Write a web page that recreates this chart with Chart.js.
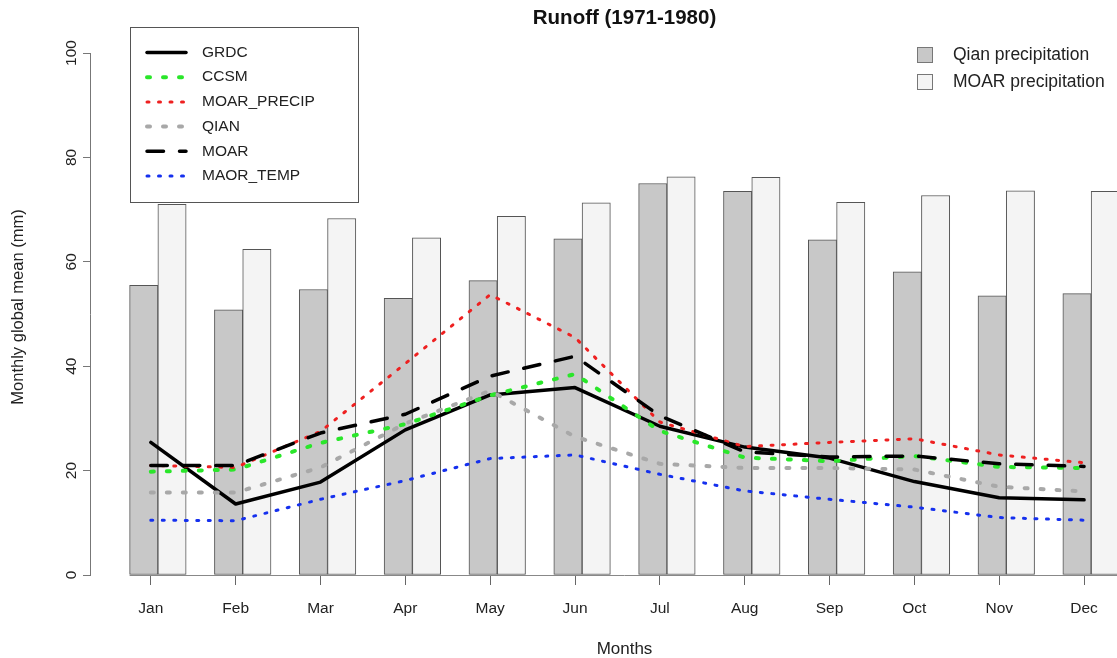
<!DOCTYPE html>
<html>
<head>
<meta charset="utf-8">
<title>Runoff (1971-1980)</title>
<script src="https://cdn.jsdelivr.net/npm/chart.js@4.4.0/dist/chart.umd.min.js"></script>
<style>
  html, body { margin: 0; padding: 0; background: #fff; overflow: hidden; }
  #wrap { width: 1117px; height: 658px; overflow: hidden; }
</style>
</head>
<body>
<div id="wrap"><canvas id="runoffChart" width="1248" height="658"></canvas></div>
<script>
// data
const months = ['Jan', 'Feb', 'Mar', 'Apr', 'May', 'Jun', 'Jul', 'Aug', 'Sep', 'Oct', 'Nov', 'Dec'];
const yTicks = [0, 20, 40, 60, 80, 100];

const qianPrecip = [55.5, 50.8, 54.7, 53.0, 56.4, 64.4, 75.0, 73.5, 64.2, 58.1, 53.5, 53.9];
const moarPrecip = [71.0, 62.4, 68.3, 64.6, 68.7, 71.3, 76.3, 76.2, 71.4, 72.7, 73.6, 73.5];

const grdc       = [25.4, 13.6, 17.8, 27.8, 34.5, 35.9, 28.5, 24.5, 22.4, 17.9, 14.8, 14.4];
const ccsm       = [19.8, 20.2, 25.3, 28.9, 34.4, 38.5, 27.6, 22.5, 21.8, 22.8, 20.7, 20.5];
const moarPrecipRunoff = [21.0, 20.6, 27.5, 40.5, 53.7, 45.5, 29.3, 24.6, 25.4, 26.1, 23.0, 21.5];
const qian       = [15.8, 15.8, 20.6, 29.0, 35.3, 26.5, 21.3, 20.5, 20.5, 20.2, 16.9, 16.0];
const moar       = [21.0, 21.0, 27.2, 30.8, 38.1, 41.9, 30.5, 23.6, 22.6, 22.8, 21.3, 20.8];
const maorTemp   = [10.5, 10.4, 14.5, 18.1, 22.3, 23.0, 19.3, 16.1, 14.5, 13.0, 11.0, 10.5];

const yTitle = 'Monthly global mean (mm)';

// barplot style positions: 2 bars + 1 space per month
const groupPos = i => 3 * i + 2;
const linePos = i => 3 * i + 1.75;

const asBars = arr => arr.map((v, i) => ({ x: groupPos(i), y: v }));
const asLine = arr => arr.map((v, i) => ({ x: linePos(i), y: v }));

function lineSet(label, data, color, width, dash, order) {
    return {
        type: 'line', label: label, data: asLine(data),
        borderColor: color, borderWidth: width, borderDash: dash,
        borderCapStyle: 'round', borderJoinStyle: 'round',
        pointRadius: 0, tension: 0, fill: false, order: order
    };
}

const fam = '"Liberation Sans", Arial, Helvetica, sans-serif';
Chart.defaults.font.family = fam;
Chart.defaults.color = '#222';

const rExtras = {
    id: 'rExtras',
    beforeDatasetsDraw(chart) {
        const ctx = chart.ctx, xs = chart.scales.x, ys = chart.scales.y;
        const y0 = Math.round(ys.getPixelForValue(0)) + 0.5;
        ctx.save();
        ctx.strokeStyle = '#888';
        ctx.lineWidth = 1;
        ctx.beginPath();
        ctx.moveTo(xs.getPixelForValue(groupPos(0) - 1), y0);
        ctx.lineTo(xs.getPixelForValue(groupPos(months.length - 1) + 1), y0);
        ctx.stroke();
        ctx.restore();
    },
    afterDraw(chart) {
        const ctx = chart.ctx;
        ctx.save();
        // y axis title, rotated like R's mtext
        ctx.save();
        ctx.translate(18, 307);
        ctx.rotate(-Math.PI / 2);
        ctx.fillStyle = '#222';
        ctx.font = '16.5px ' + fam;
        ctx.textAlign = 'center';
        ctx.textBaseline = 'middle';
        ctx.fillText(yTitle, 0, 0);
        ctx.restore();

        // line legend (boxed, top left)
        ctx.fillStyle = '#fff';
        ctx.fillRect(130.5, 27.5, 228, 175);
        ctx.strokeStyle = '#555';
        ctx.lineWidth = 1;
        ctx.strokeRect(130.5, 27.5, 228, 175);
        const lines = chart.data.datasets.filter(d => d.type === 'line');
        lines.forEach((d, i) => {
            const y = 52.5 + i * 24.7;
            ctx.beginPath();
            ctx.setLineDash(d.borderDash);
            ctx.lineCap = d.borderCapStyle;
            ctx.strokeStyle = d.borderColor;
            ctx.lineWidth = d.borderWidth;
            ctx.moveTo(147, y);
            ctx.lineTo(186, y);
            ctx.stroke();
            ctx.setLineDash([]);
            ctx.fillStyle = '#222';
            ctx.font = '15.5px ' + fam;
            ctx.textAlign = 'left';
            ctx.textBaseline = 'middle';
            ctx.fillText(d.label, 202, y);
        });
        // bar legend (top right, no box)
        const bars = chart.data.datasets.filter(d => d.type === 'bar');
        bars.forEach((d, i) => {
            const y = 55 + i * 27;
            ctx.fillStyle = d.backgroundColor;
            ctx.fillRect(917, y - 8, 16, 16);
            ctx.strokeStyle = '#777';
            ctx.lineWidth = 1;
            ctx.strokeRect(917.5, y - 7.5, 15, 15);
            ctx.fillStyle = '#222';
            ctx.font = '17.5px ' + fam;
            ctx.textAlign = 'left';
            ctx.textBaseline = 'middle';
            ctx.fillText(d.label, 953, y);
        });
        ctx.restore();
    }
};

new Chart(document.getElementById('runoffChart'), {
    type: 'bar',
    data: {
        datasets: [
            { type: 'bar', label: 'Qian precipitation', data: asBars(qianPrecip),
              backgroundColor: '#c8c8c8', borderColor: '#555', borderWidth: 1,
              borderSkipped: false, barThickness: 28.28, order: 10 },
            { type: 'bar', label: 'MOAR precipitation', data: asBars(moarPrecip),
              backgroundColor: '#f4f4f4', borderColor: '#555', borderWidth: 1,
              borderSkipped: false, barThickness: 28.28, order: 10 },
            lineSet('GRDC', grdc, '#000000', 3.5, [], 6),
            lineSet('CCSM', ccsm, '#2ae62a', 4, [3, 13], 5),
            lineSet('MOAR_PRECIP', moarPrecipRunoff, '#ee2020', 3, [2, 9.5], 4),
            lineSet('QIAN', qian, '#a8a8a8', 4, [3, 13], 3),
            lineSet('MOAR', moar, '#000000', 3.5, [16.5, 16], 2),
            lineSet('MAOR_TEMP', maorTemp, '#1530ee', 3, [2, 9.5], 1)
        ]
    },
    options: {
        responsive: false,
        animation: false,
        layout: { padding: { left: 0, right: 89, top: 0, bottom: 0 } },
        plugins: {
            legend: { display: false },
            tooltip: { enabled: false },
            title: {
                display: true,
                fullSize: false,
                text: 'Runoff (1971-1980)',
                color: '#111',
                font: { size: 20.5, weight: 'bold' },
                padding: { top: 6, bottom: 22.4 }
            }
        },
        scales: {
            x: {
                type: 'linear',
                offset: false,
                min: -0.4,
                max: 37.4,
                afterBuildTicks: s => { s.ticks = months.map((m, i) => ({ value: linePos(i) })); },
                afterFit: s => { s.height = 83; },
                grid: { offset: false, drawOnChartArea: false, tickLength: 10, color: '#666' },
                border: { display: false },
                ticks: {
                    callback: (v, i) => months[i],
                    autoSkip: false, maxRotation: 0, padding: 14,
                    color: '#222', font: { size: 15.5 }
                },
                title: {
                    display: true, text: 'Months', color: '#222',
                    font: { size: 17, lineHeight: 1 }, padding: { top: 0, bottom: 0 }
                }
            },
            y: {
                min: 0,
                max: 100,
                afterBuildTicks: s => { s.ticks = yTicks.map(v => ({ value: v })); },
                afterFit: s => { s.width = 90; },
                grid: { drawOnChartArea: false, tickLength: 7, color: '#777' },
                border: { display: true, color: '#777' },
                ticks: {
                    minRotation: 90, maxRotation: 90, crossAlign: 'center', padding: -1.5,
                    color: '#222', font: { size: 15.5 }
                }
            }
        }
    },
    plugins: [rExtras]
});
</script>
</body>
</html>
